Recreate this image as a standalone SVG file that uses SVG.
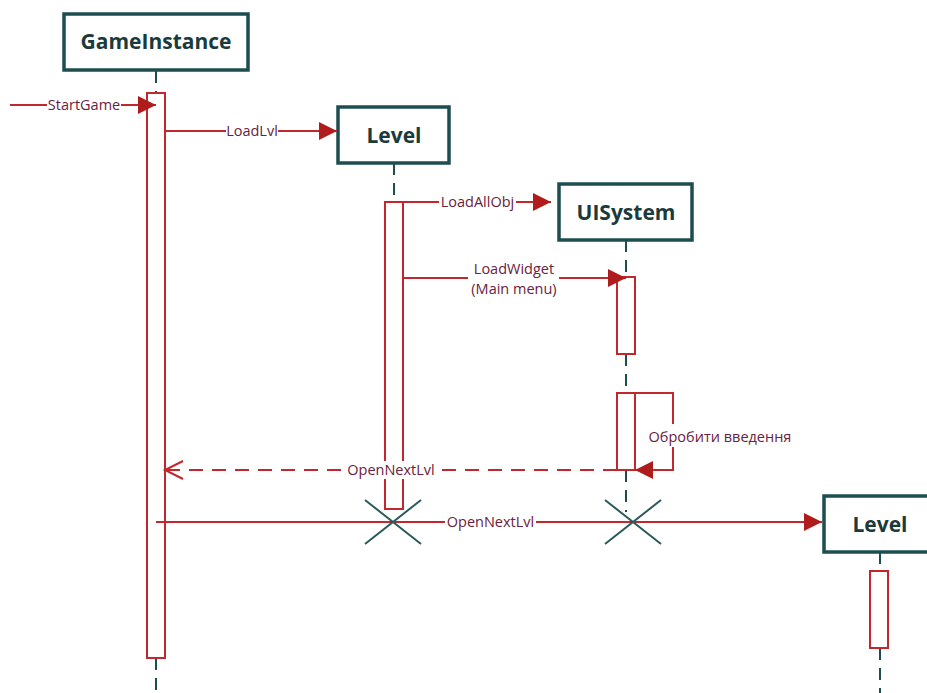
<svg xmlns="http://www.w3.org/2000/svg" width="927" height="693" viewBox="0 0 927 693">
  <style>
    .box { fill: #ffffff; stroke: #1e4d4f; stroke-width: 3.5; }
    .title { font-family: "Open Sans", "Noto Sans", "Liberation Sans", sans-serif; font-weight: 700; font-size: 21px; fill: #1b3a3c; text-anchor: middle; }
    .life { stroke: #1e4d4f; stroke-width: 2; stroke-dasharray: 12 8; fill: none; }
    .bar { fill: #ffffff; stroke: #c1272d; stroke-width: 2; }
    .msg { stroke: #c1272d; stroke-width: 2; fill: none; }
    .ret { stroke: #c1272d; stroke-width: 2; fill: none; stroke-dasharray: 14 9; }
    .lbl { font-family: "Open Sans", "Noto Sans", "Liberation Sans", sans-serif; font-size: 14.5px; fill: #6b2140; text-anchor: middle; }
    .bg { fill: #ffffff; }
    .cross { stroke: #2a5a5a; stroke-width: 2; }
  </style>
  <defs>
    <marker id="solid" markerUnits="userSpaceOnUse" markerWidth="20" markerHeight="18" refX="18" refY="9" orient="auto">
      <path d="M0,0 L18,9 L0,18 z" fill="#b01c1c"/>
    </marker>
    <marker id="open" markerUnits="userSpaceOnUse" markerWidth="22" markerHeight="22" refX="19" refY="11" orient="auto">
      <path d="M1,2 L19,11 L1,20" fill="none" stroke="#c1272d" stroke-width="2"/>
    </marker>
  </defs>
  <rect width="927" height="693" fill="#ffffff"/>

  <!-- GameInstance lifeline -->
  <g id="gameinstance">
    <path class="life" d="M156,71 V93 M156,658 V693"/>
    <rect class="box" x="64" y="14" width="184" height="56"/>
    <text class="title" x="156" y="49">GameInstance</text>
    <rect class="bar" x="147" y="93" width="18" height="565"/>
  </g>

  <!-- Level lifeline -->
  <g id="level">
    <path class="life" d="M394,163 V202"/>
    <rect class="box" x="338" y="107" width="111" height="56"/>
    <text class="title" x="394" y="143">Level</text>
    <rect class="bar" x="385" y="202" width="18" height="307"/>
  </g>

  <!-- UISystem lifeline -->
  <g id="uisystem">
    <path class="life" d="M626,240 V277 M626,354 V393 M626,470 V512"/>
    <rect class="box" x="559" y="184" width="133" height="56"/>
    <text class="title" x="626" y="220">UISystem</text>
    <rect class="bar" x="617" y="277" width="18" height="77"/>
    <rect class="bar" x="617" y="393" width="18" height="77"/>
  </g>

  <!-- second Level lifeline -->
  <g id="level2">
    <path class="life" d="M880,552 V571 M880,648 V693"/>
    <rect class="box" x="824" y="496" width="112" height="56"/>
    <text class="title" x="880" y="532">Level</text>
    <rect class="bar" x="870" y="571" width="18" height="77"/>
  </g>

  <!-- messages -->
  <g id="connectors">
    <line class="msg" x1="10" y1="105" x2="156" y2="105" marker-end="url(#solid)"/>
    <rect class="bg" x="47" y="96" width="74" height="18"/>
    <text class="lbl" x="84" y="110">StartGame</text>

    <line class="msg" x1="165" y1="131" x2="337" y2="131" marker-end="url(#solid)"/>
    <rect class="bg" x="226" y="122" width="52" height="18"/>
    <text class="lbl" x="252" y="136">LoadLvl</text>

    <line class="msg" x1="403" y1="202" x2="551" y2="202" marker-end="url(#solid)"/>
    <rect class="bg" x="439" y="193" width="77" height="18"/>
    <text class="lbl" x="477.5" y="207">LoadAllObj</text>

    <line class="msg" x1="403" y1="278" x2="626" y2="278" marker-end="url(#solid)"/>
    <rect class="bg" x="468" y="260" width="91" height="38"/>
    <text class="lbl" x="514" y="274">LoadWidget</text>
    <text class="lbl" x="514" y="294">(Main menu)</text>

    <path class="msg" d="M635,393 H673 V470 H635" marker-end="url(#solid)"/>
    <rect class="bg" x="646" y="424" width="148" height="23"/>
    <text class="lbl" x="720" y="442">Обробити введення</text>

    <line class="ret" x1="617" y1="470" x2="165" y2="470" marker-end="url(#open)"/>
    <rect class="bg" x="344" y="461" width="94" height="18"/>
    <text class="lbl" x="391" y="475">OpenNextLvl</text>

    <line class="msg" x1="156" y1="522" x2="822" y2="522" marker-end="url(#solid)"/>
    <rect class="bg" x="445" y="513" width="91" height="18"/>
    <text class="lbl" x="490.5" y="527">OpenNextLvl</text>

    <path class="cross" d="M365,500 L421,544 M365,544 L421,500"/>
    <path class="cross" d="M605,500 L661,544 M605,544 L661,500"/>
  </g>
</svg>
